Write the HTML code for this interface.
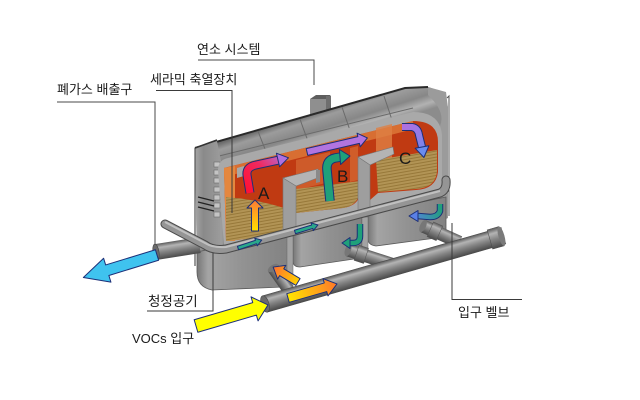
<!DOCTYPE html>
<html><head><meta charset="utf-8">
<style>
html,body{margin:0;padding:0;background:#fff;}
svg{display:block;}
text{font-family:"Liberation Sans","Noto Sans CJK KR",sans-serif;fill:#1a1a1a;}
</style></head><body>
<svg width="640" height="400" viewBox="0 0 640 400" xmlns="http://www.w3.org/2000/svg">
<defs>
 <linearGradient id="hood" gradientUnits="userSpaceOnUse" x1="300" y1="117" x2="310" y2="148">
  <stop offset="0" stop-color="#6a6a6a"/>
  <stop offset="0.2" stop-color="#9c9c9c"/>
  <stop offset="0.55" stop-color="#878787"/>
  <stop offset="0.8" stop-color="#b2b2b2"/>
  <stop offset="1" stop-color="#8c8c8c"/>
 </linearGradient>
 <linearGradient id="pipeG" x1="0" y1="0" x2="0" y2="1">
  <stop offset="0" stop-color="#5a5a5a"/>
  <stop offset="0.25" stop-color="#b4b4b4"/>
  <stop offset="0.55" stop-color="#858585"/>
  <stop offset="1" stop-color="#4a4a4a"/>
 </linearGradient>
 <linearGradient id="boxG" x1="0" y1="0" x2="1" y2="0">
  <stop offset="0" stop-color="#777"/>
  <stop offset="0.12" stop-color="#a4a4a4"/>
  <stop offset="0.5" stop-color="#929292"/>
  <stop offset="1" stop-color="#828282"/>
 </linearGradient>
 <linearGradient id="wallG" x1="0" y1="0" x2="1" y2="0">
  <stop offset="0" stop-color="#a5a5a5"/>
  <stop offset="0.3" stop-color="#8a8a8a"/>
  <stop offset="1" stop-color="#9e9e9e"/>
 </linearGradient>
 <pattern id="cer" patternUnits="userSpaceOnUse" width="6" height="3" patternTransform="rotate(-10)">
  <rect width="6" height="3" fill="#b29455"/>
  <rect y="2" width="6" height="1" fill="#977839"/>
 </pattern>
 <linearGradient id="gOrY" gradientUnits="userSpaceOnUse" x1="0" y1="0" x2="50" y2="0">
  <stop offset="0" stop-color="#ffe600"/>
  <stop offset="1" stop-color="#ff7a28"/>
 </linearGradient>
 <linearGradient id="gOrY2" gradientUnits="userSpaceOnUse" x1="0" y1="0" x2="29" y2="0">
  <stop offset="0" stop-color="#ffd000"/>
  <stop offset="1" stop-color="#ff7030"/>
 </linearGradient>
 <linearGradient id="gUp" gradientUnits="userSpaceOnUse" x1="0" y1="0" x2="31" y2="0">
  <stop offset="0" stop-color="#ffe000"/>
  <stop offset="1" stop-color="#ff7a35"/>
 </linearGradient>
 <linearGradient id="gA" gradientUnits="userSpaceOnUse" x1="250" y1="192" x2="288" y2="158">
  <stop offset="0" stop-color="#ff1238"/>
  <stop offset="0.5" stop-color="#f02a60"/>
  <stop offset="1" stop-color="#b070e0"/>
 </linearGradient>
 <linearGradient id="gC" gradientUnits="userSpaceOnUse" x1="402" y1="127" x2="424" y2="157">
  <stop offset="0" stop-color="#b070e0"/>
  <stop offset="1" stop-color="#6a8cf0"/>
 </linearGradient>
 <linearGradient id="gHC" gradientUnits="userSpaceOnUse" x1="440" y1="204" x2="409" y2="216">
  <stop offset="0" stop-color="#1fa07a"/>
  <stop offset="1" stop-color="#5a80e6"/>
 </linearGradient>
</defs>

<!-- leader lines -->
<g fill="none" stroke="#4a4a4a" stroke-width="1">
 <path d="M198,60 H314 V85"/>
 <path d="M57,102 H155 V245"/>
</g>

<!-- body backdrop -->
<path d="M195,148 L405,88 L428,87 Q446,92 448,108 L448,216 L197,266 Z" fill="#8a8a8a"/>
<!-- chimney -->
<path d="M310,99 L316,95 L331,95 L326,99 Z" fill="#5e5e5e"/>
<rect x="310" y="99" width="16" height="19" fill="#8f8f8f"/>
<rect x="326" y="96" width="5" height="20" fill="#6f6f6f"/>
<!-- hood -->
<path d="M195,148 L405,88 L428,87 Q446,92 448,108 L440,126 Q436,119 418,120 L226,166 Q215,168 213,158 Z" fill="url(#hood)"/>
<path d="M195,148 L405,88 L428,87" fill="none" stroke="#2a2a2a" stroke-width="2"/>
<g stroke="#6a6a6a" stroke-width="1" fill="none">
 <path d="M258,131 Q262,142 268,156"/>
 <path d="M300,119 Q304,131 310,146"/>
 <path d="M342,107 Q346,119 352,136"/>
 <path d="M384,96 Q388,108 394,126"/>
 <path d="M215,157 L413,108"/>
</g>
<!-- right end frame -->
<path d="M428,87 L446,92 L448,108 L448,218 L440,222 L440,126 Q446,112 428,95 Z" fill="#9b9b9b"/>
<path d="M447,98 L449,96 L449,216" stroke="#555" stroke-width="1" fill="none"/>
<!-- left wall -->
<path d="M195,148 L217,141 L222,166 L223,262 L197,266 Z" fill="url(#wallG)"/>
<path d="M195,148 L195,266" stroke="#555" stroke-width="1.2"/>
<path d="M195,148 L217,140" stroke="#333" stroke-width="1.5"/>
<g fill="#c4c4c4" stroke="#6a6a6a" stroke-width="0.6">
 <rect x="214" y="162" width="6" height="5"/>
 <rect x="214" y="170" width="6" height="5"/>
 <rect x="214" y="178" width="6" height="5"/>
 <rect x="214" y="187" width="6" height="5"/>
 <rect x="214" y="195" width="6" height="5"/>
 <rect x="214" y="203" width="6" height="5"/>
 <rect x="214" y="212" width="6" height="5"/>
</g>
<g stroke="#222" stroke-width="1.4">
 <path d="M198,197 L214,201"/>
 <path d="M198,202 L214,206"/>
 <path d="M198,207 L214,211"/>
</g>
<!-- cutaway frame -->
<path d="M218,170 Q218,160 228,158 L413,112 Q440,112 442,135 L442,190 Q440,198 430,200 L224,246 Z" fill="#a9a9a9"/>

<!-- cutaway colored area -->
<path d="M224,168 L413,121 Q438,121 438,142 L438,172 Q436,189 416,190 L378,193 L370,200 L360,195 Q357,206 343,208 L296,213 L290,222 L284,222 Q282,236 266,237 L226,241 Z" fill="#c03a12"/>
<path d="M224,168 L413,121 L414,129 L224,177 Z" fill="#dc7838" opacity="0.85"/>
<path d="M224,168 L235,166 L235,241 L226,241 Z" fill="#e4873f"/>
<path d="M296,160 L330,152 L330,182 L296,190 Z" fill="#d46a34" opacity="0.7"/>
<path d="M376,128 L392,124 L392,158 L376,161 Z" fill="#de8044" opacity="0.8"/>
<path d="M350,148 L358,146 L358,180 L350,182 Z" fill="#e08040" opacity="0.5"/>

<!-- ceramics -->
<path d="M226,197 Q255,199 284,208 L284,224 Q282,236 266,237 L226,241 Z" fill="url(#cer)"/>
<path d="M296,189 L360,181 L360,192 Q357,206 343,208 L296,213 Z" fill="url(#cer)"/>
<path d="M376,160 L437,150 L437,172 Q435,188 416,189 L378,192 Z" fill="url(#cer)"/>

<!-- partitions -->
<path d="M237,168 L244,166 L244,176 L237,178 Z" fill="#a8a8a8"/>
<path d="M283,178 L318,169 L320,177 L296,186 Z" fill="#b4b4b4" stroke="#777" stroke-width="0.6"/>
<path d="M316,170 L320,170 L320,182 L316,183 Z" fill="#8a8a8a"/>
<path d="M283,178 L296,186 L296,250 L283,253 Z" fill="#9e9e9e" stroke="#777" stroke-width="0.6"/>
<path d="M358,157 L393,147 L394,154 L370,165 Z" fill="#b4b4b4" stroke="#777" stroke-width="0.6"/>
<path d="M358,157 L370,165 L370,230 L358,233 Z" fill="#9e9e9e" stroke="#777" stroke-width="0.6"/>

<!-- ceramic leader line -->
<path d="M156,90.5 H232 V213" fill="none" stroke="#3a3a3a" stroke-width="1"/>

<!-- boxes -->
<path d="M197,252 L288,232 L289,281 Q289,287 283,287 L212,290 Q197,287 197,272 Z" fill="url(#boxG)" stroke="#5a5a5a" stroke-width="0.8"/>
<path d="M293,230 L362,215 L362,254 Q361,259 354,259 L300,267 Q293,267 293,261 Z" fill="url(#boxG)" stroke="#5a5a5a" stroke-width="0.8"/>
<path d="M368,213 L446,197 L446,232 Q444,238 436,238 L376,246 Q368,245 368,239 Z" fill="url(#boxG)" stroke="#5a5a5a" stroke-width="0.8"/>
<rect x="287" y="236" width="6" height="50" fill="#a3a3a3" stroke="#666" stroke-width="0.5"/>
<rect x="362" y="217" width="6" height="45" fill="#a3a3a3" stroke="#666" stroke-width="0.5"/>

<!-- exhaust pipe -->
<g transform="translate(156,252) rotate(-9)">
 <rect x="0" y="-8" width="44" height="16" fill="url(#pipeG)"/>
 <ellipse cx="0" cy="0" rx="3" ry="8" fill="#6a6a6a" stroke="#444" stroke-width="0.6"/>
</g>

<!-- purge pipe -->
<path d="M165,224 L205,245 Q213,251 226,249 L440,193 Q447,190 446,180" fill="none" stroke="#4a4a4a" stroke-width="9" stroke-linecap="round" stroke-linejoin="round"/>
<path d="M165,224 L205,245 Q213,251 226,249 L440,193 Q447,190 446,180" fill="none" stroke="#959595" stroke-width="7" stroke-linecap="round" stroke-linejoin="round"/>
<path d="M165,222 L205,243 Q213,248 226,247 L440,191" fill="none" stroke="#c0c0c0" stroke-width="2"/>

<!-- stubs -->
<g transform="translate(273,268) rotate(55)">
 <rect x="0" y="-6" width="30" height="12" fill="url(#pipeG)"/>
 <ellipse cx="0" cy="0" rx="3" ry="6" fill="#777"/>
</g>
<g transform="translate(348,250) rotate(18)">
 <rect x="0" y="-6.5" width="52" height="13" fill="url(#pipeG)"/>
 <rect x="9" y="-8" width="10" height="16" fill="url(#pipeG)" stroke="#555" stroke-width="0.5"/>
 <ellipse cx="0" cy="0" rx="3" ry="6.5" fill="#777"/>
</g>
<g transform="translate(423,226) rotate(24)">
 <rect x="0" y="-6.5" width="40" height="13" fill="url(#pipeG)"/>
 <rect x="8" y="-8" width="10" height="16" fill="url(#pipeG)" stroke="#555" stroke-width="0.5"/>
 <ellipse cx="0" cy="0" rx="3" ry="6.5" fill="#777"/>
</g>

<!-- VOCs main pipe -->
<g transform="translate(265,304) rotate(-16)">
 <rect x="0" y="-8.5" width="248" height="17" fill="url(#pipeG)" stroke="#4a4a4a" stroke-width="0.6"/>
 <rect x="234" y="-10" width="12" height="20" fill="url(#pipeG)" stroke="#4a4a4a" stroke-width="0.5"/>
 <ellipse cx="246" cy="0" rx="3" ry="10" fill="#7a7a7a"/>
 <ellipse cx="0" cy="0" rx="4" ry="8.5" fill="#6a6a6a" stroke="#444" stroke-width="0.6"/>
</g>

<!-- valve leader lines -->
<g fill="none" stroke="#3a3a3a" stroke-width="1">
 <path d="M452,223 V299.5 H522"/>
 <path d="M147,311 H213 V253"/>
</g>

<!-- straight arrows -->
<g stroke="#1c2f78" stroke-width="1" stroke-linejoin="round">
 <polygon transform="translate(157,255) rotate(163)" points="0,-5.5 52,-5.5 52,-12.5 77,0 52,12.5 52,5.5 0,5.5" fill="#3fc3ef"/>
 <polygon transform="translate(196,326) rotate(-16.3)" points="0,-6.5 61,-6.5 61,-12.5 75,0 61,12.5 61,6.5 0,6.5" fill="#ffff00"/>
 <polygon transform="translate(288,298) rotate(-16)" points="0,-4.5 39,-4.5 39,-9 51,0 39,9 39,4.5 0,4.5" fill="url(#gOrY)"/>
 <polygon transform="translate(298,282) rotate(-149)" points="0,-4 19,-4 19,-8 29,0 19,8 19,4 0,4" fill="url(#gOrY2)"/>
 <polygon transform="translate(255,231) rotate(-90)" points="0,-3.5 23,-3.5 23,-8 31,0 23,8 23,3.5 0,3.5" fill="url(#gUp)"/>
 <polygon transform="translate(307,152) rotate(-13.1)" points="0,-3.5 53,-3.5 53,-7 62,0 53,7 53,3.5 0,3.5" fill="#b274e0"/>
 <polygon transform="translate(238,248) rotate(-18.4)" points="0,-1.8 19,-1.8 19,-4 25,0 19,4 19,1.8 0,1.8" fill="#2aa88a"/>
 <polygon transform="translate(295,232) rotate(-17)" points="0,-1.8 18,-1.8 18,-4 24,0 18,4 18,1.8 0,1.8" fill="#2aa88a"/>
</g>

<!-- bent arrows -->
<g fill="none" stroke-linecap="butt" stroke-linejoin="round">
 <path d="M250,193 L247,175 Q246,167 256,165 L279,160" stroke="#1c2f78" stroke-width="9"/>
 <path d="M250,193 L247,175 Q246,167 256,165 L279,160" stroke="url(#gA)" stroke-width="7"/>
 <path d="M330,201 L327,170 Q326,160 335,158 L341,157" stroke="#1c2f78" stroke-width="9.5"/>
 <path d="M330,201 L327,170 Q326,160 335,158 L341,157" stroke="#1fa07a" stroke-width="7.5"/>
 <path d="M402,127 L412,127 Q418,128 419,135 L422,147" stroke="#1c2f78" stroke-width="8"/>
 <path d="M402,127 L412,127 Q418,128 419,135 L422,147" stroke="url(#gC)" stroke-width="6"/>
 <path d="M360,224 L360,236 Q360,243 353,243 L350,243" stroke="#1c2f78" stroke-width="6.5"/>
 <path d="M360,224 L360,236 Q360,243 353,243 L350,243" stroke="#1fa07a" stroke-width="4.5"/>
 <path d="M440,204 L440,211 Q438,217 430,217 L418,216" stroke="#1c2f78" stroke-width="6.5"/>
 <path d="M440,204 L440,211 Q438,217 430,217 L418,216" stroke="url(#gHC)" stroke-width="4.5"/>
</g>
<g stroke="#1c2f78" stroke-width="1" stroke-linejoin="round">
 <polygon points="279.6,166.8 276.4,153.2 288.5,157.8" fill="#b070e0"/>
 <polygon points="340.6,164.5 339.4,149.5 350,156" fill="#1fa07a"/>
 <polygon points="428.9,145.8 415.1,148.2 423.9,157.5" fill="#6a8cf0"/>
 <polygon points="350,237.5 350,248.5 342,243" fill="#1fa07a"/>
 <polygon points="418,210.5 418,221.5 409,216" fill="#5a80e6"/>
</g>

<!-- chamber letters -->
<text x="258" y="199" font-size="17">A</text>
<text x="337" y="182" font-size="17">B</text>
<text x="399" y="164" font-size="17">C</text>

<!-- labels -->
<text x="197" y="54" font-size="13">연소 시스템</text>
<text x="150" y="84" font-size="13">세라믹 축열장치</text>
<text x="57" y="94" font-size="13">폐가스 배출구</text>
<text x="148" y="306" font-size="13.5">청정공기</text>
<text x="132" y="343" font-size="13">VOCs 입구</text>
<text x="458" y="317" font-size="13">입구 벨브</text>
</svg>
</body></html>
